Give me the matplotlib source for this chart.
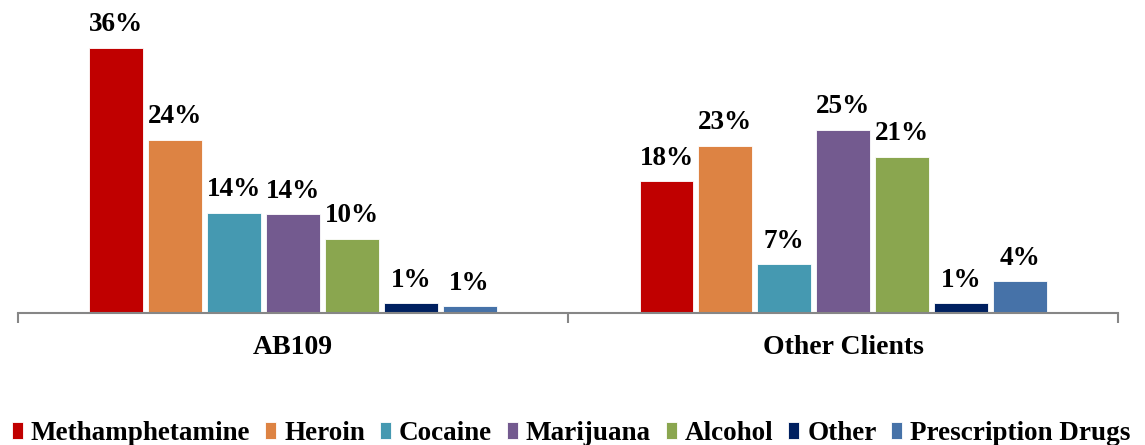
import matplotlib
matplotlib.use("Agg")
import matplotlib.pyplot as plt
import numpy as np

groups = ["AB109", "Other Clients"]
substances = ["Methamphetamine", "Heroin", "Cocaine", "Marijuana", "Alcohol", "Other", "Prescription Drugs"]
ab109 = [36.0, 23.5, 13.6, 13.4, 10.1, 1.3, 0.9]
other_clients = [17.9, 22.7, 6.6, 24.9, 21.2, 1.3, 4.3]
ab109_labels = ["36%", "24%", "14%", "14%", "10%", "1%", "1%"]
other_labels = ["18%", "23%", "7%", "25%", "21%", "1%", "4%"]
colors = ["#C00000", "#DD8343", "#4599B1", "#735A8F", "#8AA64F", "#002060", "#4672A8"]

plt.rcParams['font.family'] = ['Liberation Serif', 'DejaVu Serif']
plt.rcParams['font.weight'] = 'bold'

fig = plt.figure(figsize=(11.45, 4.45), dpi=100)
ax = fig.add_axes([18/1145, 1-313/445, 1100/1145, 300/445])

slot = 0.107
bw = 0.098
n = len(substances)
centers = np.arange(len(groups)) + 0.5
series = list(zip(ab109, other_clients))
labels = list(zip(ab109_labels, other_labels))
for i, name in enumerate(substances):
    xs = centers + (i - (n - 1) / 2) * slot
    bars = ax.bar(xs, series[i], width=bw, color=colors[i], edgecolor='white',
                  linewidth=0.6, label=name, zorder=2)
    for b, lab in zip(bars, labels[i]):
        ax.annotate(lab, (b.get_x() + b.get_width() / 2, b.get_height()),
                    xytext=(0, 12), textcoords='offset points',
                    ha='center', va='baseline', fontsize=19.5, fontweight='bold',
                    annotation_clip=False)

ax.set_xlim(0, 2)
ax.set_ylim(0, 300 / 7.36)
ax.set_yticks([])
for s in ['left', 'right', 'top']:
    ax.spines[s].set_visible(False)
ax.spines['bottom'].set_color('#868686')
ax.spines['bottom'].set_linewidth(1.5)
ax.set_xticks([0, 1, 2])
ax.set_xticklabels([])
ax.set_xticks(centers, minor=True)
ax.set_xticklabels(groups, minor=True, fontsize=20, fontweight='bold')
ax.tick_params(axis='x', which='major', length=7, width=1.5, color='#868686', direction='out')
ax.tick_params(axis='x', which='minor', length=0, pad=16)

leg = fig.legend(loc='lower center', bbox_to_anchor=(0.499, -0.058), ncol=7, frameon=False,
                 prop={'size': 19.5, 'weight': 'bold'}, handlelength=0.4, handleheight=0.6,
                 handletextpad=0.3, columnspacing=0.55)

fig.savefig("out.png", dpi=100)
